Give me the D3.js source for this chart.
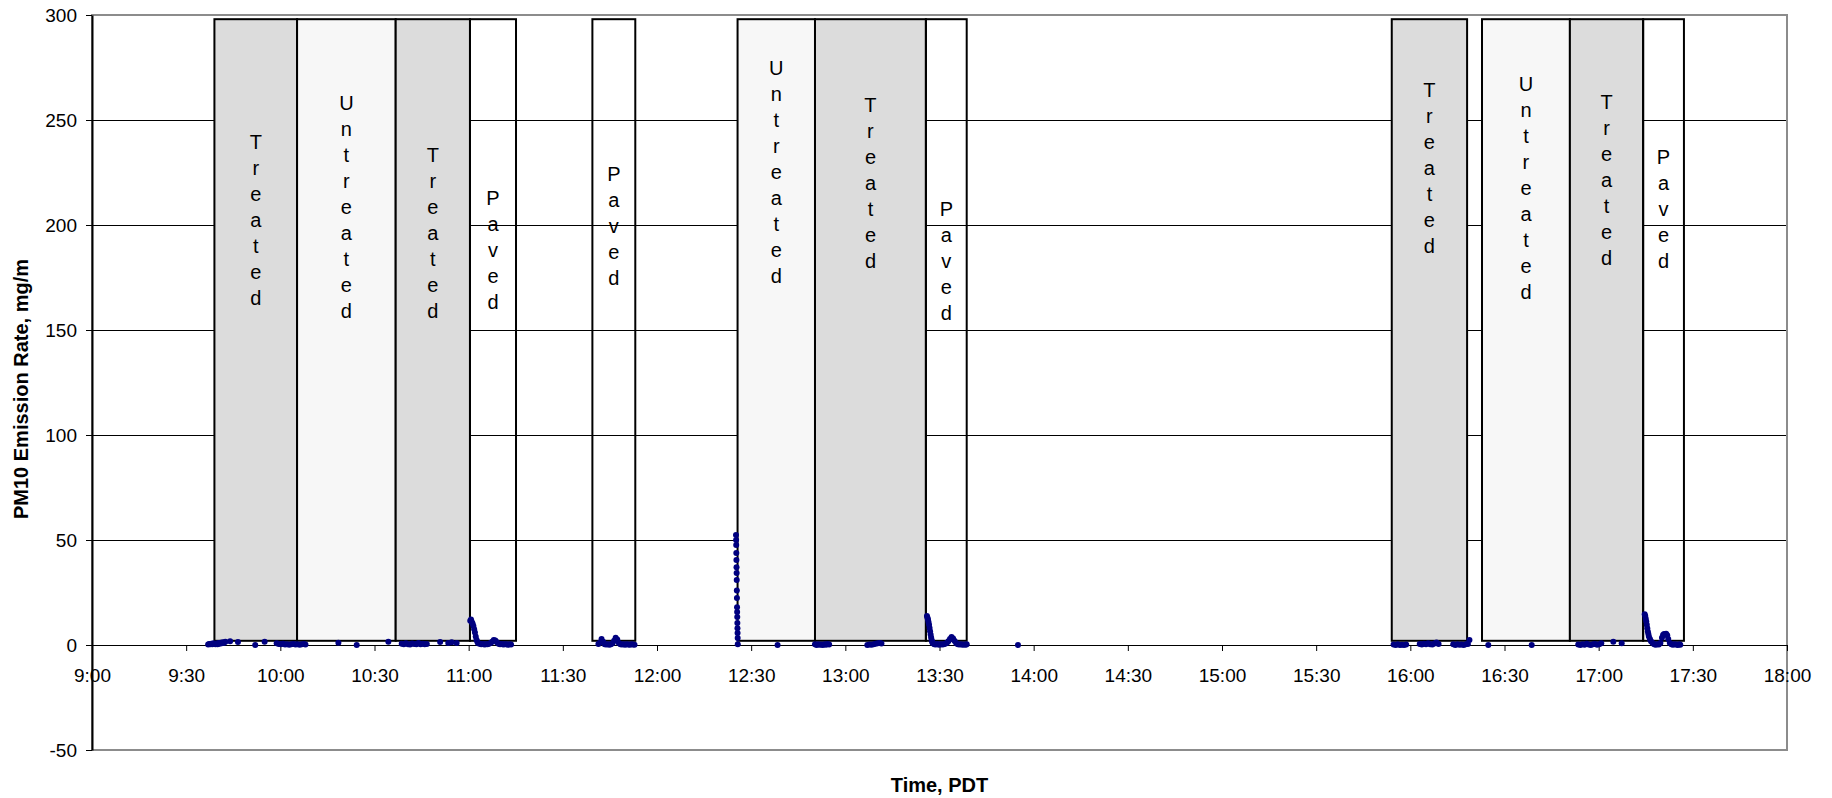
<!DOCTYPE html>
<html>
<head>
<meta charset="utf-8">
<script src="https://cdn.jsdelivr.net/npm/d3@7"></script>
<style>
    body { margin: 0; background: #fff; }
    svg { display: block; font-family: "Liberation Sans", Arial, sans-serif; }
</style>
</head>
<body>
<div id="chart"></div>
<script>
// test sections (start, end, surface)
const sectionStart = ["9:39:00", "10:05:20", "10:36:45", "11:00:25", "11:39:25", "12:25:40",
    "12:50:20", "13:25:40", "15:54:05", "16:22:50", "16:50:50", "17:14:10"];
const sectionEnd = ["10:05:20", "10:36:45", "11:00:25", "11:15:05", "11:53:05", "12:50:20",
    "13:25:40", "13:38:40", "16:18:05", "16:50:50", "17:14:10", "17:27:10"];
const sectionType = ["Treated", "Untreated", "Treated", "Paved", "Paved", "Untreated",
    "Treated", "Paved", "Treated", "Untreated", "Treated", "Paved"];
// where the first letter of each vertical label sits, in mg/m
const labelLevel = [239.7, 258.2, 233.8, 212.9, 224.3, 274.8, 257.6, 208, 264.3, 267.6, 258.7, 232.5];
const boxLow = 2, boxHigh = 298;

const yTicks = [-50, 0, 50, 100, 150, 200, 250, 300];

// PM10 emission rate, mg/m  [time, value]
const morningRun = [
    ["9:37:00", 0.2], ["9:37:20", 0.5], ["9:37:40", 0.3], ["9:38:00", 0.6], ["9:38:20", 0.4],
    ["9:38:40", 0.8], ["9:39:00", 0.5], ["9:39:20", 0.3], ["9:39:40", 0.7], ["9:40:00", 0.4],
    ["9:40:20", 0.9], ["9:40:40", 0.6], ["9:41:00", 1.1], ["9:41:20", 0.8], ["9:41:40", 1.3],
    ["9:42:00", 1.0], ["9:42:30", 1.5], ["9:44:00", 1.8], ["9:46:30", 1.4], ["9:52:00", 0.0],
    ["9:55:00", 1.5], ["9:58:50", 0.8], ["9:59:30", 0.5], ["10:00:10", 0.3], ["10:00:50", 0.6],
    ["10:01:30", 0.2], ["10:02:10", 0.4], ["10:02:50", 0.1], ["10:03:30", 0.3], ["10:04:10", 0.5],
    ["10:04:50", 0.2], ["10:05:30", 0.4], ["10:06:10", 0.1], ["10:06:50", 0.3], ["10:07:30", 0.5],
    ["10:08:00", 0.2], ["10:18:30", 1.1], ["10:24:20", 0.0], ["10:34:25", 1.6],
    ["10:38:40", 0.6], ["10:39:20", 0.3], ["10:40:00", 0.8], ["10:40:40", 0.4], ["10:41:20", 0.2],
    ["10:42:00", 0.7], ["10:42:40", 0.5], ["10:43:20", 0.3], ["10:44:00", 0.9], ["10:44:40", 0.4],
    ["10:45:20", 0.6], ["10:46:00", 0.3], ["10:46:40", 0.5], ["10:50:55", 1.4], ["10:53:30", 1.0],
    ["10:54:35", 1.3], ["10:56:10", 0.9],
    ["11:00:30", 11.5], ["11:00:45", 12.2], ["11:01:00", 11.0], ["11:01:15", 10.2], ["11:01:30", 9.0],
    ["11:01:45", 7.5], ["11:02:00", 6.0], ["11:02:15", 4.0], ["11:02:30", 2.5], ["11:02:45", 1.5],
    ["11:03:00", 0.8], ["11:03:30", 0.6], ["11:04:00", 0.3], ["11:04:30", 0.5], ["11:05:00", 0.2],
    ["11:05:30", 0.4], ["11:06:00", 0.3], ["11:06:30", 0.6], ["11:07:00", 0.9], ["11:07:30", 1.6],
    ["11:08:00", 2.4], ["11:08:30", 2.2], ["11:09:00", 1.3], ["11:09:30", 0.6], ["11:10:00", 0.3],
    ["11:10:30", 0.5], ["11:11:00", 0.2], ["11:11:30", 0.4], ["11:12:00", 0.3], ["11:12:30", 0.1],
    ["11:13:00", 0.3], ["11:13:30", 0.2]
];
const pavedRun = [
    ["11:41:20", 0.5], ["11:41:50", 1.2], ["11:42:20", 2.8], ["11:42:50", 1.5], ["11:43:20", 0.4],
    ["11:43:50", 0.2], ["11:44:20", 0.3], ["11:44:50", 0.1], ["11:45:20", 0.4], ["11:45:50", 0.8],
    ["11:46:20", 2.0], ["11:46:50", 3.4], ["11:47:20", 2.6], ["11:47:50", 0.9], ["11:48:20", 0.3],
    ["11:48:50", 0.2], ["11:49:20", 0.4], ["11:49:50", 0.1], ["11:50:20", 0.3], ["11:50:50", 0.2],
    ["11:51:20", 0.1], ["11:51:50", 0.3], ["11:52:20", 0.2], ["11:52:50", 0.1]
];
const noonRun = [
    ["12:25:10", 52.4], ["12:25:12", 50.0], ["12:25:14", 47.6], ["12:25:16", 43.8], ["12:25:18", 40.5],
    ["12:25:20", 37.0], ["12:25:22", 34.3], ["12:25:24", 31.0], ["12:25:26", 26.0], ["12:25:28", 22.4],
    ["12:25:30", 18.0], ["12:25:32", 15.7], ["12:25:34", 13.3], ["12:25:36", 10.5], ["12:25:38", 8.0],
    ["12:25:40", 5.7], ["12:25:42", 3.3], ["12:25:44", 0.4],
    ["12:38:25", 0.0], ["12:50:20", 0.3], ["12:50:50", 0.0], ["12:51:20", 0.4], ["12:51:50", 0.1],
    ["12:52:20", 0.2], ["12:52:50", 0.0], ["12:53:20", 0.3], ["12:53:50", 0.1], ["12:54:20", 0.5],
    ["12:54:50", 0.2], ["13:07:00", 0.0], ["13:07:40", 0.2], ["13:08:20", 0.1], ["13:09:00", 0.4],
    ["13:09:40", 0.6], ["13:10:20", 0.8], ["13:11:00", 1.0], ["13:11:30", 0.7],
    ["13:26:00", 13.8], ["13:26:10", 13.0], ["13:26:20", 12.2], ["13:26:30", 11.0], ["13:26:40", 9.6],
    ["13:26:50", 8.1], ["13:27:00", 6.5], ["13:27:10", 5.0], ["13:27:20", 3.6], ["13:27:30", 2.4],
    ["13:27:40", 1.5], ["13:27:50", 0.8], ["13:28:20", 0.4], ["13:28:50", 0.2], ["13:29:20", 0.5],
    ["13:29:50", 0.1], ["13:30:20", 0.3], ["13:30:50", 0.2], ["13:31:20", 0.4], ["13:31:50", 0.6],
    ["13:32:20", 1.0], ["13:32:50", 1.8], ["13:33:20", 2.9], ["13:33:50", 3.8], ["13:34:20", 3.1],
    ["13:34:50", 1.9], ["13:35:20", 0.8], ["13:35:50", 0.4], ["13:36:20", 0.2], ["13:36:50", 0.3],
    ["13:37:20", 0.1], ["13:37:50", 0.2], ["13:38:20", 0.1], ["13:38:40", 0.3], ["13:55:00", 0.0]
];
const afternoonRun = [
    ["15:54:40", 0.2], ["15:55:20", 0.0], ["15:56:00", 0.3], ["15:56:40", 0.0], ["15:57:20", 0.1],
    ["15:58:00", 0.0], ["15:58:40", 0.2], ["16:03:00", 0.5], ["16:03:40", 0.2], ["16:04:20", 0.6],
    ["16:05:00", 0.3], ["16:05:40", 0.8], ["16:06:20", 0.4], ["16:07:00", 0.2], ["16:07:40", 0.7],
    ["16:08:20", 1.2], ["16:09:00", 0.5], ["16:13:40", 0.3], ["16:14:20", 0.0], ["16:15:00", 0.4],
    ["16:15:40", 0.1], ["16:16:20", 0.2], ["16:17:00", 0.0], ["16:17:40", 0.3], ["16:18:20", 0.5],
    ["16:18:50", 2.4], ["16:24:50", 0.0], ["16:38:40", 0.0],
    ["16:53:30", 0.2], ["16:54:10", 0.0], ["16:54:50", 0.4], ["16:55:30", 0.1], ["16:56:10", 0.6],
    ["16:56:50", 0.2], ["16:57:30", 0.0], ["16:58:10", 0.3], ["16:58:50", 0.5], ["16:59:30", 0.1],
    ["17:00:10", 0.4], ["17:00:50", 0.8], ["17:04:40", 1.5], ["17:07:20", 0.8],
    ["17:14:40", 14.6], ["17:14:50", 13.8], ["17:15:00", 12.5], ["17:15:10", 11.2], ["17:15:20", 9.6],
    ["17:15:30", 8.0], ["17:15:40", 6.4], ["17:15:50", 5.2], ["17:16:00", 4.0], ["17:16:20", 2.8],
    ["17:16:40", 1.8], ["17:17:10", 1.0], ["17:17:40", 0.3], ["17:18:10", 0.1], ["17:18:40", 0.4],
    ["17:19:10", 0.2], ["17:19:40", 1.0], ["17:20:10", 3.5], ["17:20:30", 4.8], ["17:20:50", 5.2],
    ["17:21:10", 5.0], ["17:21:30", 5.3], ["17:21:50", 4.6], ["17:22:10", 2.8], ["17:22:40", 0.9],
    ["17:23:10", 0.3], ["17:23:40", 0.1], ["17:24:10", 0.4], ["17:24:40", 0.2], ["17:25:10", 0.0],
    ["17:25:40", 0.3], ["17:26:00", 0.1]
];

const width = 1832, height = 798;
const plot = { left: 92, right: 1787, top: 15, bottom: 750 };
const parseTime = d3.timeParse("%H:%M:%S");

const svg = d3.select("#chart").append("svg")
    .attr("width", width)
    .attr("height", height);
svg.append("rect").attr("width", width).attr("height", height).attr("fill", "#fff");

const x = d3.scaleTime()
    .domain([parseTime("9:00:00"), parseTime("18:00:00")])
    .range([plot.left, plot.right]);
const y = d3.scaleLinear()
    .domain([-50, 300])
    .range([plot.bottom, plot.top]);

// gridlines
svg.append("g")
    .selectAll("line")
    .data(yTicks.filter(d => d > 0 && d < 300))
    .join("line")
    .attr("x1", plot.left).attr("x2", plot.right)
    .attr("y1", d => y(d) + 0.5).attr("y2", d => y(d) + 0.5)
    .attr("stroke", "#000").attr("stroke-width", 1)
    .attr("shape-rendering", "crispEdges");

// plot frame
svg.append("rect")
    .attr("x", plot.left).attr("y", plot.top)
    .attr("width", plot.right - plot.left).attr("height", plot.bottom - plot.top)
    .attr("fill", "none").attr("stroke", "#8c8c8c").attr("stroke-width", 2);

// sections
const fills = { Treated: "#dcdcdc", Untreated: "#f7f7f7", Paved: "none" };
const sections = sectionStart.map((s, i) => ({
    start: parseTime(s), end: parseTime(sectionEnd[i]), type: sectionType[i], level: labelLevel[i]
}));

svg.append("g")
    .selectAll("rect")
    .data(sections)
    .join("rect")
    .attr("x", d => x(d.start))
    .attr("y", y(boxHigh))
    .attr("width", d => x(d.end) - x(d.start))
    .attr("height", y(boxLow) - y(boxHigh))
    .attr("fill", d => fills[d.type])
    .attr("stroke", "#000")
    .attr("stroke-width", 2);

// vertical labels, one letter per line
const labels = svg.append("g")
    .selectAll("text")
    .data(sections)
    .join("text")
    .attr("x", d => (x(d.start) + x(d.end)) / 2)
    .attr("y", d => y(d.level) + 7.5)
    .attr("text-anchor", "middle")
    .style("font-size", "20px")
    .attr("fill", "#000");
labels.selectAll("tspan")
    .data(d => d.type.split("").map(c => ({ c, x: (x(d.start) + x(d.end)) / 2 })))
    .join("tspan")
    .attr("x", d => d.x)
    .attr("dy", (d, i) => i === 0 ? 0 : 26)
    .text(d => d.c);

// axes
const xAxis = svg.append("g")
    .attr("transform", `translate(0,${y(0)})`)
    .call(d3.axisBottom(x)
        .ticks(d3.timeMinute.every(30))
        .tickFormat(d3.timeFormat("%-H:%M"))
        .tickSize(6)
        .tickSizeOuter(0));
xAxis.select(".domain").attr("stroke", "#000").attr("stroke-width", 1.2);
xAxis.selectAll(".tick line").attr("stroke", "#000");
xAxis.selectAll(".tick text")
    .attr("y", 0).attr("dy", 0)
    .attr("transform", "translate(0,37)")
    .style("font-size", "19px").attr("fill", "#000");

const yAxis = svg.append("g")
    .attr("transform", `translate(${plot.left},0)`)
    .call(d3.axisLeft(y).tickValues(yTicks).tickFormat(d => String(d)).tickSize(6).tickSizeOuter(0));
yAxis.select(".domain").attr("stroke", "#000").attr("stroke-width", 2);
yAxis.selectAll(".tick line").attr("stroke", "#000");
yAxis.selectAll(".tick text")
    .attr("x", -15).attr("dy", "0.35em")
    .style("font-size", "19px").attr("fill", "#000");

// emission points
const allPoints = [].concat(morningRun, pavedRun, noonRun, afternoonRun);
svg.append("g")
    .selectAll("circle")
    .data(allPoints)
    .join("circle")
    .attr("cx", d => x(parseTime(d[0])))
    .attr("cy", d => y(d[1]))
    .attr("r", 3)
    .attr("fill", "#000080");

// axis titles
svg.append("text")
    .attr("x", (plot.left + plot.right) / 2)
    .attr("y", 792)
    .attr("text-anchor", "middle")
    .style("font-size", "20px")
    .style("font-weight", "bold")
    .text("Time, PDT");

svg.append("text")
    .attr("transform", `translate(28,389) rotate(-90)`)
    .attr("text-anchor", "middle")
    .style("font-size", "20px")
    .style("font-weight", "bold")
    .text("PM10 Emission Rate, mg/m");
</script>
</body>
</html>
